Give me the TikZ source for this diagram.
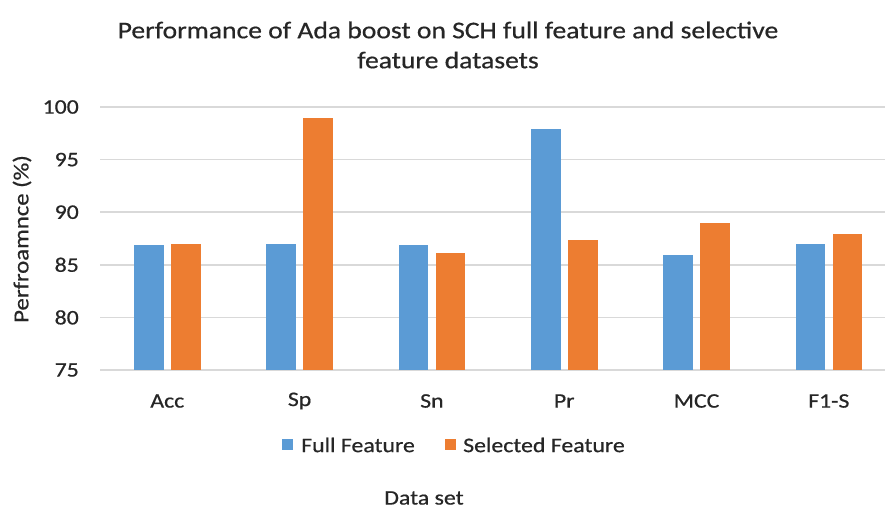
\documentclass[tikz,border=0pt]{standalone}
\usepackage{fontspec}
\setmainfont{Carlito}[FakeStretch=1.15,FakeBold=0.6]
\definecolor{barblue}{HTML}{5B9BD5}
\definecolor{barorange}{HTML}{ED7D31}
\definecolor{gridgray}{HTML}{D9D9D9}
\definecolor{txt}{HTML}{262626}
\begin{document}
\begin{tikzpicture}[x=1pt,y=-1pt,
  lbl/.style={text=txt,inner sep=0pt,font=\fontsize{20.7}{24}\selectfont},
  ttl/.style={text=txt,inner sep=0pt,font=\fontsize{24}{30}\selectfont,align=center},
  gridline/.style={draw=gridgray,line width=1.5pt},
  fullbar/.style={fill=barblue},
  selbar/.style={fill=barorange}]
\useasboundingbox (0,0) rectangle (885,511);
% title
\node[ttl] (title) at (448,45) {Performance of Ada boost on SCH full feature and selective\\feature datasets};
% grid
\foreach \v in {75,80,85,90,95,100}{
  \draw[gridline] (100,{370-(\v-75)*10.52}) -- (885,{370-(\v-75)*10.52});
  \node[lbl,anchor=east] (t\v) at (79,{370-(\v-75)*10.52}) {\v};
}
% bars
\foreach \i/\name/\a/\b in {0/Acc/86.85/87.0,1/Sp/87.0/99.0,2/Sn/86.85/86.1,3/Pr/97.9/87.4,4/MCC/85.9/89.0,5/F1-S/87.0/87.9}{
  \pgfmathsetmacro{\c}{167.3+132.3*\i}
  \fill[fullbar] ({\c-33.3},370) rectangle ({\c-3.7},{370-(\a-75)*10.52});
  \fill[selbar] ({\c+3.7},370) rectangle ({\c+33.3},{370-(\b-75)*10.52});
  \node[lbl] (cat\i) at (\c,401) {\name};
}
% axis titles
\node[lbl,rotate=90,font=\fontsize{21.5}{24}\selectfont] (ylab) at (22,239) {Perfroamnce (\%)};
\node[lbl] (xlab) at (424,498) {Data set};
% legend
\fill[barblue] (282,439) rectangle (293,450);
\node[lbl,anchor=west] (lfull) at (301,445) {Full Feature};
\fill[barorange] (445,439) rectangle (456,450);
\node[lbl,anchor=west] (lsel) at (463,445) {Selected Feature};
\end{tikzpicture}
\end{document}
